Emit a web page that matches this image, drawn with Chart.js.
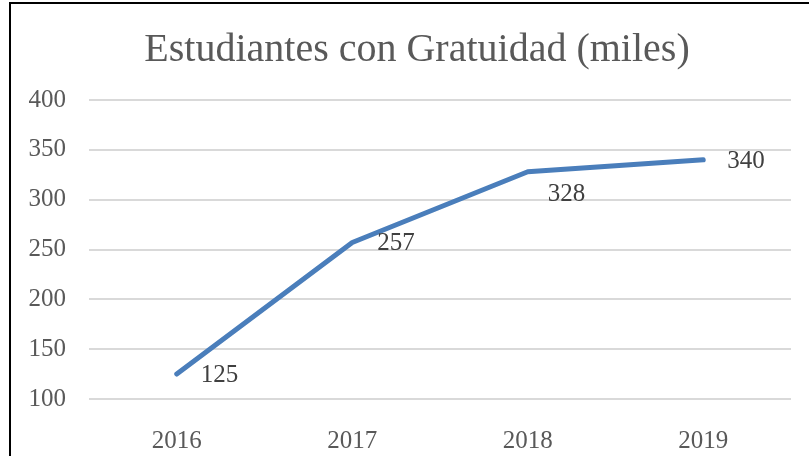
<!DOCTYPE html>
<html>
<head>
<meta charset="utf-8">
<script src="https://cdn.jsdelivr.net/npm/chart.js@4/dist/chart.umd.min.js"></script>
<style>
  html, body { margin: 0; padding: 0; background: #ffffff; }
  #wrap { position: relative; width: 809px; height: 456px; overflow: hidden; }
  #c { position: absolute; left: 0; top: 0; }
  #frame { position: absolute; left: 9px; top: 2px; width: 800px; height: 460px;
           border-left: 2px solid #000; border-top: 2px solid #000; pointer-events: none; }
</style>
</head>
<body>
<div id="wrap">
  <canvas id="c" width="809" height="456"></canvas>
  <div id="frame"></div>
</div>
<script>
const titleText = 'Estudiantes con Gratuidad (miles)';
const categories = ['2016', '2017', '2018', '2019'];
const students = [125, 257, 328, 340];
const yTicks = [100, 150, 200, 250, 300, 350, 400];

// label placement relative to each point (pixels)
const labelOffsets = [[24, 1], [25, 1], [20, 23], [24, 2]];

const FONT = '"Liberation Serif", "DejaVu Serif", serif';
const TEXT = '#595959';

const chartTitle = {
  id: 'chartTitle',
  afterDraw(chart) {
    const ctx = chart.ctx;
    ctx.save();
    ctx.font = '40px ' + FONT;
    ctx.fillStyle = TEXT;
    ctx.textAlign = 'center';
    ctx.textBaseline = 'middle';
    ctx.fillText(titleText, 417, 50);
    ctx.restore();
  }
};

const dataLabels = {
  id: 'dataLabels',
  afterDatasetsDraw(chart) {
    const ctx = chart.ctx;
    const meta = chart.getDatasetMeta(0);
    ctx.save();
    ctx.font = '25px ' + FONT;
    ctx.fillStyle = '#404040';
    ctx.textAlign = 'left';
    ctx.textBaseline = 'middle';
    meta.data.forEach((pt, i) => {
      const [dx, dy] = labelOffsets[i];
      ctx.fillText(String(students[i]), pt.x + dx, pt.y + dy);
    });
    ctx.restore();
  }
};

new Chart(document.getElementById('c'), {
  type: 'line',
  data: {
    labels: categories,
    datasets: [{
      data: students,
      borderColor: '#4A7EBB',
      borderWidth: 5,
      borderCapStyle: 'round',
      borderJoinStyle: 'round',
      tension: 0,
      pointRadius: 0,
      fill: false
    }]
  },
  options: {
    responsive: false,
    animation: false,
    layout: { padding: { top: 100, left: 0, right: 18, bottom: 0 } },
    plugins: {
      legend: { display: false },
      tooltip: { enabled: false },
      title: { display: false }
    },
    scales: {
      x: {
        offset: true,
        grid: { display: false },
        border: { display: false },
        ticks: { color: TEXT, font: { family: FONT, size: 25 }, padding: 19 },
        afterFit(s) { s.height = 57; }
      },
      y: {
        min: 100,
        max: 400,
        afterBuildTicks(s) { s.ticks = yTicks.map(v => ({ value: v })); },
        grid: { color: '#d9d9d9', lineWidth: 2, drawTicks: false },
        border: { display: false },
        ticks: { color: TEXT, font: { family: FONT, size: 25 }, padding: 23 },
        afterFit(s) { s.width = 89; }
      }
    }
  },
  plugins: [dataLabels, chartTitle]
});
</script>
</body>
</html>
